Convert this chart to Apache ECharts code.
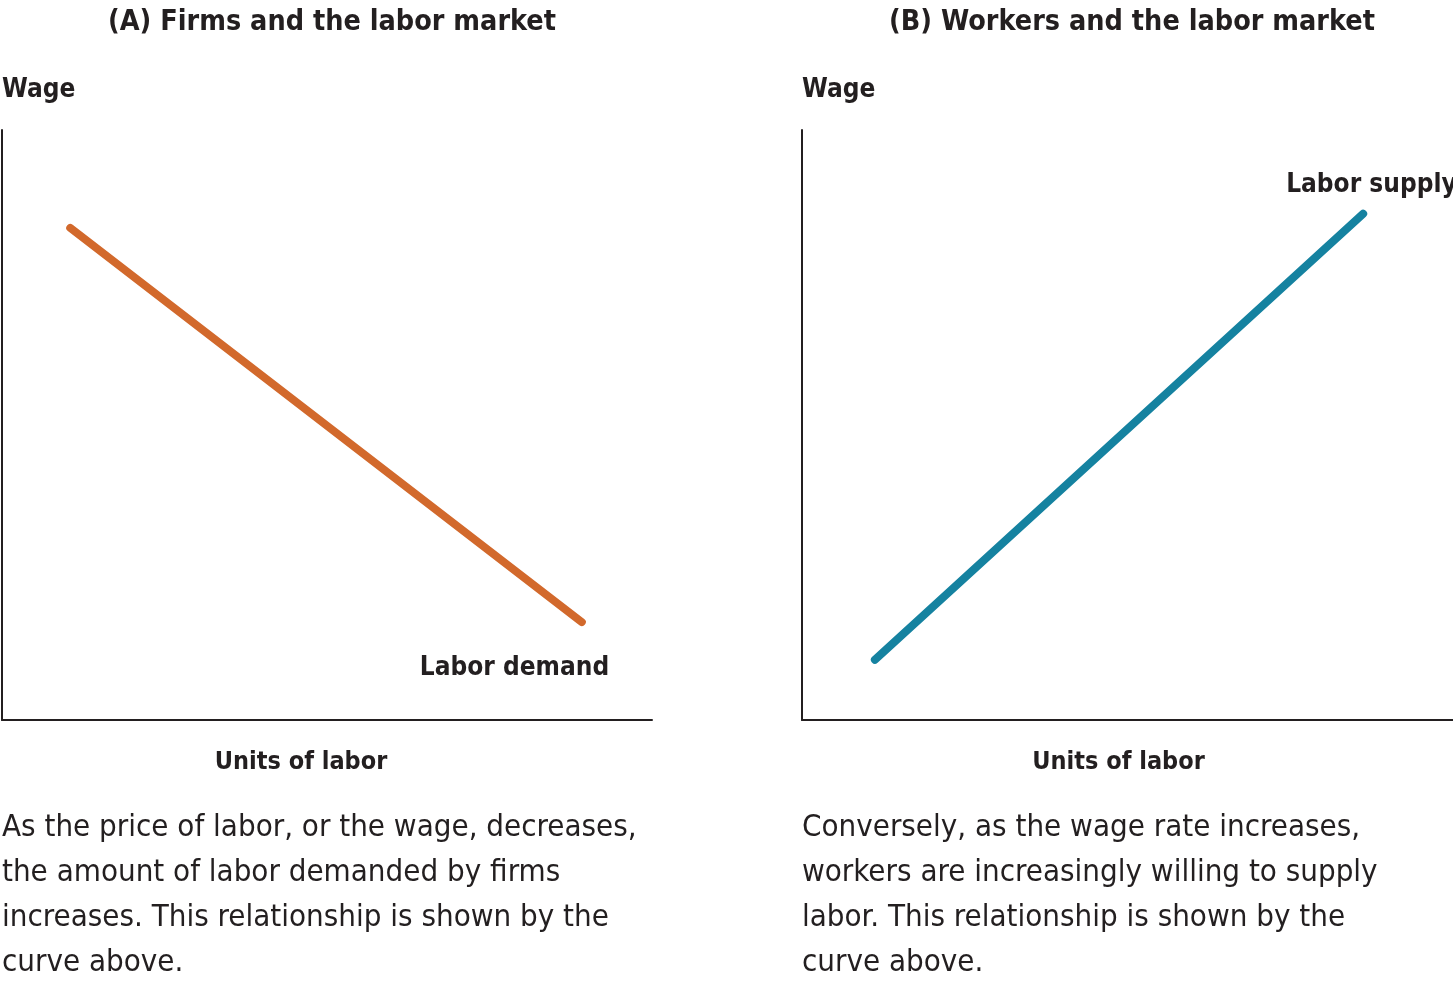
<!DOCTYPE html>
<html><head><meta charset="utf-8">
<script src="https://cdn.jsdelivr.net/npm/echarts@6/dist/echarts.min.js"></script>
<style>html,body{margin:0;padding:0;background:#fff}#c{width:1453px;height:981px}</style>
</head><body><div id="c"></div>
<script>
const FONT = "'Liberation Sans Narrow','DejaVu Sans Condensed','Roboto',sans-serif";
const TXT = '#231f20';
const panelTitles = ['(A) Firms and the labor market', '(B) Workers and the labor market'];
const yAxisNames = ['Wage', 'Wage'];
const xAxisNames = ['Units of labor', 'Units of labor'];
const curveNames = ['Labor demand', 'Labor supply'];
const demandX = [1.05, 8.92];
const demandY = [8.34, 1.66];
const supplyX = [1.12, 8.62];
const supplyY = [1.02, 8.58];
const captions = [
  'As the price of labor, or the wage, decreases,\nthe amount of labor demanded by firms\nincreases. This relationship is shown by the\ncurve above.',
  'Conversely, as the wage rate increases,\nworkers are increasingly willing to supply\nlabor. This relationship is shown by the\ncurve above.'
];

const chart = echarts.init(document.getElementById('c'));
const axisCommon = {
  type: 'value', min: 0, max: 10,
  axisTick: {show: false}, axisLabel: {show: false}, splitLine: {show: false},
  axisLine: {show: true, lineStyle: {color: TXT, width: 2}}
};
const xShift = [52, 18];
function xa(i){return Object.assign({}, axisCommon, {gridIndex: i, name: xAxisNames[i], nameLocation: 'middle', nameGap: 30,
  nameTextStyle: {fontFamily: FONT, fontWeight: 'bold', fontSize: 25, color: TXT, padding: [0, xShift[i], 0, 0]}});}
function ya(i){return Object.assign({}, axisCommon, {gridIndex: i, name: yAxisNames[i], nameLocation: 'end', nameGap: 27,
  nameTextStyle: {fontFamily: FONT, fontWeight: 'bold', fontSize: 26, color: TXT, align: 'left'}});}
const lbl = {fontFamily: FONT, fontWeight: 'bold', fontSize: 26, color: TXT};
chart.setOption({
  animation: false,
  title: [
    {text: panelTitles[0], left: 327, top: 3, textAlign: 'center', textStyle: {fontFamily: FONT, fontWeight: 'bold', fontSize: 28.5, color: TXT}},
    {text: panelTitles[1], left: 1127, top: 3, textAlign: 'center', textStyle: {fontFamily: FONT, fontWeight: 'bold', fontSize: 28.5, color: TXT}}
  ],
  grid: [
    {left: 2, top: 130, width: 650, height: 590},
    {left: 802, top: 130, width: 651, height: 590}
  ],
  xAxis: [xa(0), xa(1)],
  yAxis: [ya(0), ya(1)],
  series: [
    {type: 'line', xAxisIndex: 0, yAxisIndex: 0, name: curveNames[0],
     data: demandX.map((x, k) => [x, demandY[k]]), showSymbol: false, symbol: 'none',
     lineStyle: {color: '#d2692c', width: 8, cap: 'round'},
     endLabel: {show: true, formatter: curveNames[0], offset: [-170, 46], ...lbl}},
    {type: 'line', xAxisIndex: 1, yAxisIndex: 1, name: curveNames[1],
     data: supplyX.map((x, k) => [x, supplyY[k]]), showSymbol: false, symbol: 'none',
     lineStyle: {color: '#1582a0', width: 8, cap: 'round'},
     endLabel: {show: true, formatter: curveNames[1], offset: [-85, -29], ...lbl}}
  ],
  graphic: [
    {type: 'text', left: 2, top: 805, style: {text: captions[0], fontFamily: FONT, fontSize: 31, lineHeight: 45, fill: TXT}},
    {type: 'text', left: 802, top: 805, style: {text: captions[1], fontFamily: FONT, fontSize: 31, lineHeight: 45, fill: TXT}}
  ]
});
</script></body></html>
